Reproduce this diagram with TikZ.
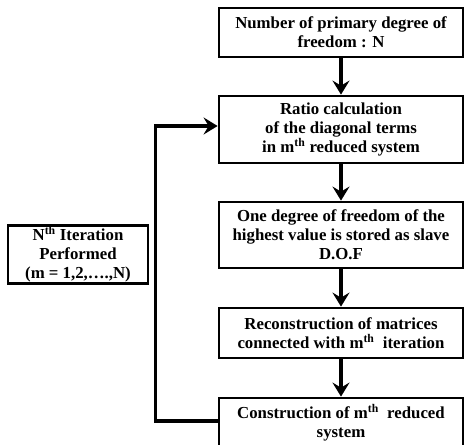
\documentclass[tikz,border=0pt]{standalone}
\usepackage{fontspec}
\setmainfont{Liberation Serif}
\usetikzlibrary{arrows.meta}

\begin{document}
\begin{tikzpicture}
  [x=1pt,y=-1pt,every node/.style={draw,line width=2.8pt,align=center,
    font=\bfseries\fontsize{16.8}{19}\selectfont},
   flow/.style={line width=3.2pt,-{Stealth[length=14pt,width=17pt,inset=5pt]}}]
  \useasboundingbox (0,0) rectangle (464,445);
  \node (b1)[minimum width=244pt,minimum height=49pt] at (341,32.5) {Number of primary degree of\\freedom : N};
  \node (b2)[minimum width=244pt,minimum height=67pt] at (341,129.5) {Ratio calculation\\of the diagonal terms\\in m\textsuperscript{th} reduced system};
  \node (b3)[minimum width=244pt,minimum height=66pt] at (341,235) {One degree of freedom of the\\highest value is stored as slave\\D.O.F};
  \node (b4)[minimum width=244pt,minimum height=50pt] at (341,333) {Reconstruction of matrices\\connected with m\textsuperscript{th}\ \ iteration};
  \node (b5)[minimum width=244pt,minimum height=50pt] at (341,423) {Construction of m\textsuperscript{th}\ \ reduced\\system};
  \node (it)[minimum width=140pt,minimum height=55pt,inner sep=1pt] at (78,254.5) {N\textsuperscript{th} Iteration\\Performed\\(m = 1,2,….,N)};

   \foreach \from/\to in {b1/b2,b2/b3,b3/b4,b4/b5}
    \draw[flow] (\from) -- (\to);
   \draw[flow] ([yshift=2pt]b5.west) -- ++(-62,0) |- ([yshift=3.5pt]b2.west);
    \end{tikzpicture}
\end{document}
